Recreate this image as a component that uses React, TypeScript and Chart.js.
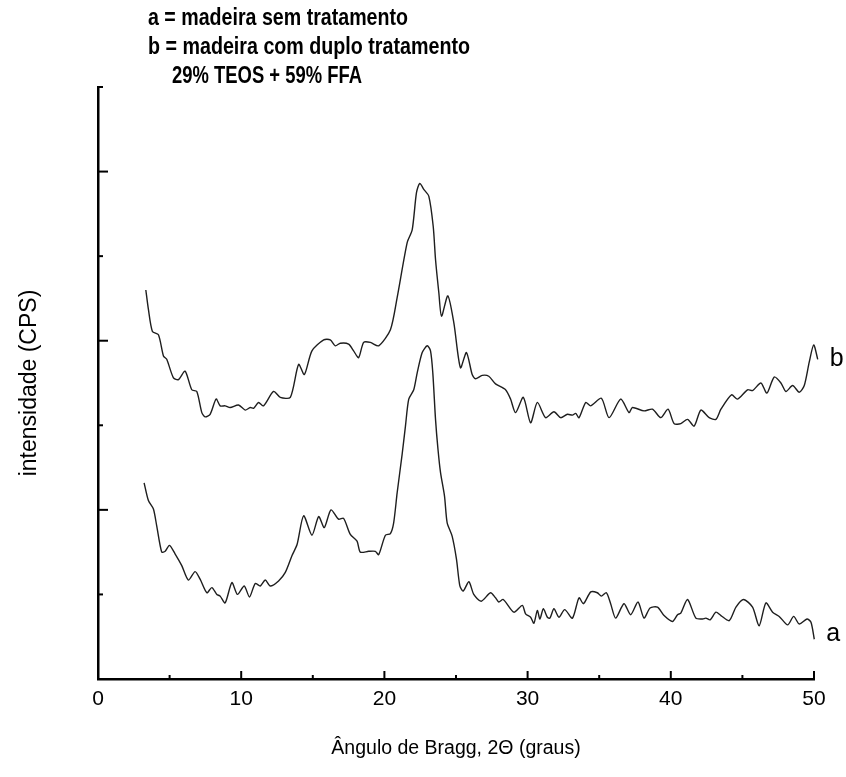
import React, { useEffect, useRef } from "react";
import { Chart, registerables } from "chart.js";

Chart.register(...registerables);

// 2θ (graus) , intensidade (arbitrary offset units)
const seriesB: [number, number][] = [
  [3.34, 4.6], [3.52, 4.37], [3.8, 4.11], [4.22, 4.07], [4.57, 3.82], [4.8, 3.78], [5.27, 3.56], [5.62, 3.54],
  [6.08, 3.64], [6.55, 3.42], [6.9, 3.4], [7.25, 3.15], [7.48, 3.1], [7.83, 3.13], [8.25, 3.31], [8.53, 3.23],
  [8.88, 3.23], [9.23, 3.21], [9.81, 3.24], [10.28, 3.18], [10.63, 3.21], [10.86, 3.2], [11.21, 3.27], [11.56, 3.23],
  [12.26, 3.4], [12.73, 3.33], [13.43, 3.33], [14.01, 3.72], [14.41, 3.6], [14.94, 3.88], [15.76, 4.01], [16.22, 4.01],
  [16.57, 3.94], [16.92, 3.97], [17.5, 3.96], [17.85, 3.88], [18.2, 3.8], [18.55, 3.98], [19.02, 3.98], [19.6, 3.94],
  [20.42, 4.13], [20.89, 4.51], [21.59, 5.16], [21.94, 5.31], [22.24, 5.75], [22.47, 5.86], [22.75, 5.79], [23.1, 5.71],
  [23.41, 5.35], [23.57, 4.96], [23.8, 4.57], [23.99, 4.29], [24.43, 4.53], [24.85, 4.21], [25.31, 3.68], [25.73, 3.86],
  [26.13, 3.6], [26.36, 3.55], [26.83, 3.59], [27.29, 3.58], [27.76, 3.49], [28.46, 3.42], [28.81, 3.31], [29.16, 3.15],
  [29.7, 3.33], [30.21, 3.03], [30.68, 3.27], [31.26, 3.09], [31.84, 3.16], [32.31, 3.09], [32.78, 3.13], [33.13, 3.12],
  [33.36, 3.14], [33.59, 3.09], [34.06, 3.27], [34.41, 3.23], [35.15, 3.32], [35.69, 3.09], [36.5, 3.31], [37.08, 3.15],
  [37.32, 3.21], [38.13, 3.17], [38.72, 3.19], [39.3, 3.09], [39.81, 3.19], [40.23, 3.02], [40.7, 3.02], [41.17, 3.07],
  [41.63, 2.99], [42.1, 3.18], [42.68, 3.09], [43.15, 3.07], [43.5, 3.19], [44.24, 3.36], [44.66, 3.31], [45.36, 3.42],
  [45.71, 3.41], [46.29, 3.5], [46.71, 3.38], [47.22, 3.57], [47.69, 3.5], [48.04, 3.4], [48.51, 3.47], [48.97, 3.39],
  [49.32, 3.47], [49.67, 3.75], [49.98, 3.95], [50.26, 3.78],
];

const seriesA: [number, number][] = [
  [3.22, 2.32], [3.52, 2.11], [3.87, 2.01], [4.1, 1.81], [4.45, 1.5], [4.69, 1.51], [4.99, 1.58], [5.38, 1.48],
  [5.85, 1.34], [6.31, 1.17], [6.78, 1.27], [7.13, 1.18], [7.6, 1.02], [7.95, 1.08], [8.3, 1.0], [8.53, 0.98],
  [8.88, 0.9], [9.35, 1.14], [9.74, 1.0], [10.21, 1.1], [10.58, 0.97], [10.98, 1.13], [11.33, 1.1], [11.68, 1.17],
  [12.03, 1.1], [12.61, 1.16], [13.08, 1.26], [13.55, 1.46], [13.9, 1.59], [14.36, 1.93], [14.94, 1.7], [15.41, 1.92],
  [15.8, 1.79], [16.27, 2.0], [16.8, 1.89], [17.15, 1.9], [17.62, 1.71], [18.09, 1.63], [18.32, 1.5], [18.9, 1.51],
  [19.37, 1.51], [19.6, 1.47], [20.07, 1.7], [20.42, 1.72], [20.65, 1.85], [20.89, 2.2], [21.24, 2.66], [21.47, 2.99],
  [21.7, 3.31], [22.05, 3.42], [22.29, 3.62], [22.64, 3.86], [22.99, 3.94], [23.22, 3.88], [23.38, 3.62], [23.57, 3.07],
  [23.74, 2.72], [23.92, 2.44], [24.2, 2.16], [24.38, 1.85], [24.73, 1.69], [25.03, 1.42], [25.27, 1.1], [25.5, 1.04],
  [25.9, 1.15], [26.24, 1.0], [26.76, 0.92], [27.41, 1.02], [27.76, 0.96], [27.99, 0.91], [28.3, 0.94], [29.04, 0.79],
  [29.63, 0.87], [29.86, 0.77], [30.21, 0.73], [30.44, 0.66], [30.68, 0.81], [30.86, 0.71], [31.1, 0.83], [31.38, 0.73],
  [31.56, 0.72], [31.84, 0.83], [32.19, 0.73], [32.59, 0.82], [33.13, 0.72], [33.59, 0.96], [33.9, 0.89], [34.41, 1.03],
  [34.87, 1.02], [35.15, 0.98], [35.5, 1.02], [35.8, 0.89], [36.15, 0.72], [36.73, 0.89], [37.2, 0.76], [37.71, 0.91],
  [38.13, 0.72], [38.55, 0.84], [39.07, 0.85], [39.53, 0.75], [40.12, 0.68], [40.47, 0.76], [40.7, 0.78], [41.17, 0.94],
  [41.75, 0.72], [42.22, 0.71], [42.45, 0.72], [42.75, 0.7], [43.15, 0.79], [43.5, 0.75], [44.08, 0.69], [44.55, 0.85],
  [45.08, 0.94], [45.71, 0.85], [46.17, 0.63], [46.64, 0.9], [47.11, 0.79], [47.57, 0.74], [48.16, 0.64], [48.58, 0.74],
  [48.97, 0.65], [49.51, 0.71], [49.79, 0.67], [50.02, 0.47],
];

const xTicks = [0, 10, 20, 30, 40, 50];
const xMinorTicks = [5, 15, 25, 35, 45];
const yMajorTicks = [2, 4, 6];
const yMinorTicks = [1, 3, 5, 7];
const legendLines = [
  "a = madeira sem tratamento",
  "b = madeira com duplo tratamento",
  "29% TEOS + 59% FFA",
];
const seriesLabels = ["a", "b"];
const xTitle = "Ângulo de Bragg, 2Θ (graus)";
const yTitle = "intensidade (CPS)";

const FONT = "'Liberation Sans', Arial, sans-serif";

function fitText(ctx: CanvasRenderingContext2D, text: string, x: number, y: number, width: number, size: number, weight = "normal") {
  ctx.save();
  ctx.font = `${weight} ${size}px ${FONT}`;
  const w = ctx.measureText(text).width;
  ctx.translate(x, y);
  ctx.scale(width / w, 1);
  ctx.textAlign = "left";
  ctx.textBaseline = "alphabetic";
  ctx.fillStyle = "#000";
  ctx.fillText(text, 0, 0);
  ctx.restore();
}

const decorPlugin = {
  id: "decor",
  afterDraw(chart: any) {
    const { ctx, chartArea } = chart;
    const xs = chart.scales.x;
    const ys = chart.scales.y;
    ctx.save();
    ctx.strokeStyle = "#000";
    ctx.lineWidth = 2;
    // inward x ticks
    xTicks.concat(xMinorTicks).forEach((v) => {
      if (v === 0) return;
      const px = xs.getPixelForValue(v);
      const len = xMinorTicks.includes(v) ? 4 : 8;
      ctx.beginPath();
      ctx.moveTo(px, chartArea.bottom);
      ctx.lineTo(px, chartArea.bottom - len);
      ctx.stroke();
    });
    // inward y ticks
    yMajorTicks.concat(yMinorTicks).forEach((v) => {
      const py = ys.getPixelForValue(v);
      const len = yMajorTicks.includes(v) ? 10 : 5;
      ctx.beginPath();
      ctx.moveTo(chartArea.left, py);
      ctx.lineTo(chartArea.left + len, py);
      ctx.stroke();
    });
    ctx.restore();

    // legend text block
    fitText(ctx, legendLines[0], 148, 25, 260, 24, "bold");
    fitText(ctx, legendLines[1], 148, 54, 322, 24, "bold");
    fitText(ctx, legendLines[2], 172, 83, 190, 24, "bold");

    // series labels next to curve ends
    ctx.save();
    ctx.font = `25px ${FONT}`;
    ctx.fillStyle = "#000";
    ctx.textAlign = "left";
    ctx.textBaseline = "middle";
    const endA = seriesA[seriesA.length - 1];
    const endB = seriesB[seriesB.length - 1];
    ctx.fillText(seriesLabels[0], xs.getPixelForValue(endA[0]) + 12, ys.getPixelForValue(endA[1] + 0.06));
    ctx.fillText(seriesLabels[1], xs.getPixelForValue(endB[0]) + 12, ys.getPixelForValue(endB[1]));
    ctx.restore();
  },
};

export default function App() {
  const ref = useRef<HTMLCanvasElement | null>(null);
  useEffect(() => {
    if (!ref.current) return;
    const chart = new Chart(ref.current, {
      type: "line",
      data: {
        datasets: [
          {
            label: seriesLabels[0],
            data: seriesA.map(([x, y]) => ({ x, y })),
            borderColor: "#1e1e1e",
            borderWidth: 1.4,
            pointRadius: 0,
            tension: 0.25,
            fill: false,
            clip: false as any,
          },
          {
            label: seriesLabels[1],
            data: seriesB.map(([x, y]) => ({ x, y })),
            borderColor: "#1e1e1e",
            borderWidth: 1.4,
            pointRadius: 0,
            tension: 0.25,
            fill: false,
            clip: false as any,
          },
        ],
      },
      options: {
        animation: false,
        responsive: false,
        maintainAspectRatio: false,
        layout: { padding: { top: 87, right: 32, left: 0, bottom: 0 } },
        plugins: { legend: { display: false }, tooltip: { enabled: false } },
        scales: {
          x: {
            type: "linear",
            min: 0,
            max: 50,
            afterFit: (s: any) => {
              s.height = 98;
            },
            afterBuildTicks: (s: any) => {
              s.ticks = xTicks.map((v) => ({ value: v }));
            },
            ticks: {
              color: "#000",
              font: { family: FONT, size: 21 },
              padding: 8,
              maxRotation: 0,
              autoSkip: false,
            },
            grid: { display: false, drawTicks: false },
            border: { display: true, color: "#000", width: 2.5 },
            title: {
              display: true,
              text: xTitle,
              color: "#000",
              font: { family: FONT, size: 19.5 },
              padding: { top: 0, bottom: 17 },
            },
          },
          y: {
            type: "linear",
            min: 0,
            max: 7,
            afterFit: (s: any) => {
              s.width = 98;
            },
            ticks: { display: false },
            grid: { display: false, drawTicks: false },
            border: { display: true, color: "#000", width: 2.5 },
            title: {
              display: true,
              text: yTitle,
              color: "#000",
              font: { family: FONT, size: 23 },
              padding: { top: 16, bottom: 0 },
            },
          },
        },
      },
      plugins: [decorPlugin],
    } as any);
    return () => chart.destroy();
  }, []);
  return (
    <div style={{ position: "fixed", left: 0, top: 0, width: 846, height: 777, background: "#fff" }}>
      <canvas ref={ref} width={846} height={777} />
    </div>
  );
}
